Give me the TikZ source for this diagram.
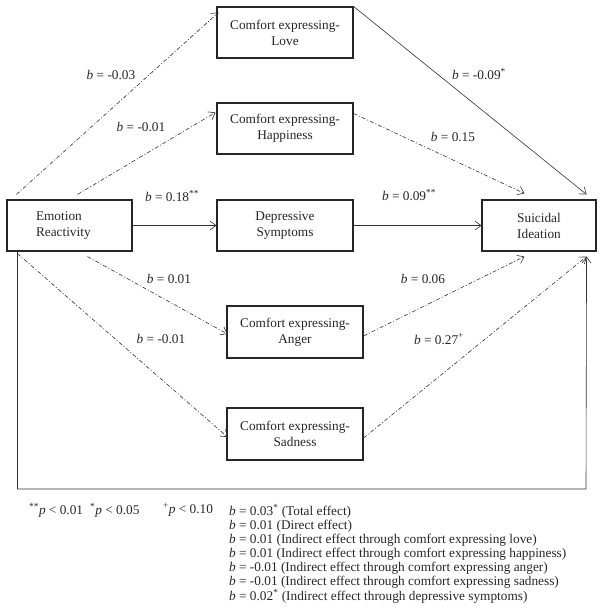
\documentclass[tikz,border=0pt]{standalone}
\usepackage{fontspec}
\setmainfont{Liberation Serif}
\usetikzlibrary{arrows.meta,calc}
\newcommand{\mysup}[1]{\textsuperscript{#1}}
\begin{document}
\begin{tikzpicture}[x=1pt,y=-1pt,
  box/.style={draw=black!85,line width=1.1pt,rectangle,minimum height=51pt,inner sep=2pt,align=center,font=\fontsize{13.3}{16}\selectfont,text=black!85},
  conn/.style={draw=black!80,line width=0.6pt,-{Straight Barb[length=6pt,width=9pt]}},
  dd/.style={conn,dash pattern=on 4pt off 2pt on 1pt off 2pt},
  lab/.style={font=\fontsize{13.3}{16}\selectfont,text=black!85,inner sep=0pt},
  note/.style={font=\fontsize{13.3}{14}\selectfont,text=black!85,inner sep=0pt,align=left},
]
\useasboundingbox (0,0) rectangle (604,610);

% boxes
\node[box,minimum width=136pt] (love)  at (285,32.5)  {Comfort expressing-\\Love};
\node[box,minimum width=136pt] (happy) at (285,128.5) {Comfort expressing-\\Happiness};
\node[box,text width=67pt,inner xsep=29pt,align=left] (emo) at (69.5,225.5) {Emotion\\Reactivity};
\node[box,minimum width=136pt] (dep)   at (285,225.5) {Depressive\\Symptoms};
\node[box,minimum width=114pt] (sui)   at (539,225.5) {Suicidal\\Ideation};
\node[box,minimum width=136pt,minimum height=52pt] (anger) at (295,332) {Comfort expressing-\\Anger};
\node[box,minimum width=136pt,minimum height=52pt] (sad)   at (295,434) {Comfort expressing-\\Sadness};

% connectors
\draw[dd] ($(emo.north west)+(10,-5)$) -- ($(love.north west)+(2,6)$);
\draw[dd] ($(emo.north west)+(71,-5)$) -- ($(happy.north west)+(-1,10)$);
\draw[conn] (emo.east) -- (dep.west);
\draw[conn] (dep.east) -- (sui.west);
\draw[conn] (love.north east) -- ($(sui.north east)+(-10,-5)$);
\draw[dd] ($(happy.north east)+(0,11)$) -- ($(sui.north west)+(43,-6)$);
\draw[dd] ($(emo.south west)+(81,5)$) -- ($(anger.west)+(1,2)$);
\draw[dd] ($(emo.south west)+(11,2)$) -- ($(sad.west)+(1,3)$);
\draw[dd] ($(anger.east)+(0,4)$) -- ($(sui.south west)+(43,5)$);
\draw[dd] ($(sad.east)+(0,4)$) -- ($(sui.south east)+(-10,5)$);
\coordinate (fb) at (586,489);
\draw[conn] ($(emo.south west)+(11,0)$) |- (fb) -- ($(sui.south east)+(-10,5)$);

% path labels
\node[lab] (l1) at (111,75)  {\textit{b} = -0.03};
\node[lab] (l2) at (141,127) {\textit{b} = -0.01};
\node[lab] (l3) at (172,196) {\textit{b} = 0.18\mysup{**}};
\node[lab] (l4) at (409,195) {\textit{b} = 0.09\mysup{**}};
\node[lab] (l5) at (479,74)  {\textit{b} = -0.09\mysup{*}};
\node[lab] (l6) at (453,137) {\textit{b} = 0.15};
\node[lab] (l7) at (169,279) {\textit{b} = 0.01};
\node[lab] (l8) at (423,279) {\textit{b} = 0.06};
\node[lab] (l9) at (161,339) {\textit{b} = -0.01};
\node[lab] (l10) at (439,339) {\textit{b} = 0.27\mysup{+}};

% notes
\node[note,anchor=west] (p1) at (29,510) {\mysup{**}\textit{p} {\textless} 0.01};
\node[note,anchor=west] (p2) at (90,510) {\mysup{*}\textit{p} {\textless} 0.05};
\node[note,anchor=west] (p3) at (163,510) {\mysup{+}\textit{p} {\textless} 0.10};
\node[note,anchor=north west] (effects) at (229,504) {%
\textit{b} = 0.03\mysup{*} (Total effect)\\
\textit{b} = 0.01 (Direct effect)\\
\textit{b} = 0.01 (Indirect effect through comfort expressing love)\\
\textit{b} = 0.01 (Indirect effect through comfort expressing happiness)\\
\textit{b} = -0.01 (Indirect effect through comfort expressing anger)\\
\textit{b} = -0.01 (Indirect effect through comfort expressing sadness)\\
\textit{b} = 0.02\mysup{*} (Indirect effect through depressive symptoms)};
\end{tikzpicture}
\end{document}
